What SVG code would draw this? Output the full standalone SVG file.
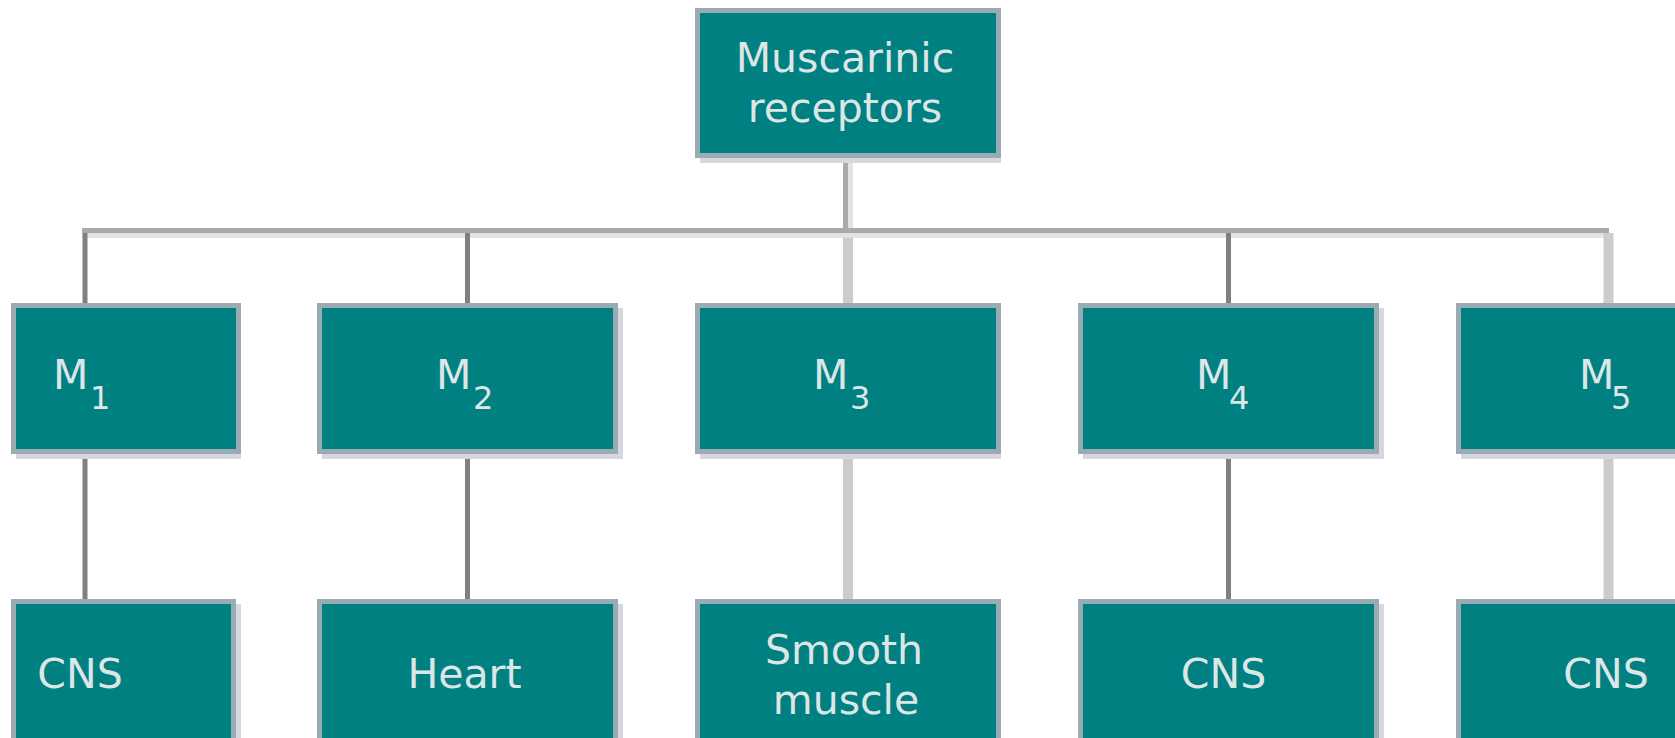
<svg xmlns="http://www.w3.org/2000/svg" width="1675" height="738" viewBox="0 0 1675 738">
<style>
.sh{fill:#d6d7df}
.bx{fill:#008080;stroke:#9aabb3;stroke-width:5}
.t{font-family:"DejaVu Sans","Liberation Sans",sans-serif;font-size:41px;fill:#dce6e6}
.ta{text-anchor:middle}
.sub{font-size:32px}
.dk{stroke:#808080;stroke-width:5;fill:none}
.lt{stroke:#cccccc;stroke-width:10;fill:none}
.hz{stroke:#aaaaaa;stroke-width:5;fill:none}
.hzs{stroke:#e3e3e3;stroke-width:5;fill:none}
</style>
<rect width="1675" height="738" fill="#ffffff"/>
<g id="connectors">
<line class="hzs" x1="82" y1="235.5" x2="1613" y2="235.5"/>
<line class="hzs" x1="850.5" y1="158" x2="850.5" y2="233"/>
<line class="hz" x1="845.5" y1="158" x2="845.5" y2="233"/>
<polyline class="hz" points="82,230.5 1609,230.5"/>
<line class="dk" x1="85" y1="233" x2="85" y2="303"/>
<line class="dk" x1="85" y1="454" x2="85" y2="599"/>
<line class="dk" x1="467.5" y1="233" x2="467.5" y2="303"/>
<line class="dk" x1="467.5" y1="454" x2="467.5" y2="599"/>
<line class="lt" x1="848" y1="238" x2="848" y2="303"/>
<line class="lt" x1="848" y1="454" x2="848" y2="599"/>
<line class="dk" x1="1228.5" y1="233" x2="1228.5" y2="303"/>
<line class="dk" x1="1228.5" y1="454" x2="1228.5" y2="599"/>
<line class="lt" x1="1608.5" y1="233" x2="1608.5" y2="303"/>
<line class="lt" x1="1608.5" y1="454" x2="1608.5" y2="599"/>
</g>
<g id="muscarinic">
<rect class="sh" x="700" y="13" width="301" height="150"/>
<rect class="bx" x="697.5" y="10.5" width="301" height="145"/>
<text class="t ta" x="845" y="72">Muscarinic</text>
<text class="t ta" x="845" y="122">receptors</text>
</g>
<g id="m1">
<rect class="sh" x="16" y="308" width="225" height="151"/>
<rect class="bx" x="13.5" y="305.5" width="225" height="146"/>
<text class="t" x="53" y="389">M<tspan class="sub" x="90" y="409">1</tspan></text>
</g>
<g id="m2">
<rect class="sh" x="322" y="308" width="301" height="151"/>
<rect class="bx" x="319.5" y="305.5" width="296" height="146"/>
<text class="t" x="436" y="389">M<tspan class="sub" x="473" y="409">2</tspan></text>
</g>
<g id="m3">
<rect class="sh" x="700" y="308" width="301" height="151"/>
<rect class="bx" x="697.5" y="305.5" width="301" height="146"/>
<text class="t" x="813" y="389">M<tspan class="sub" x="850" y="409">3</tspan></text>
</g>
<g id="m4">
<rect class="sh" x="1083" y="308" width="301" height="151"/>
<rect class="bx" x="1080.5" y="305.5" width="296" height="146"/>
<text class="t" x="1196" y="389">M<tspan class="sub" x="1229" y="409">4</tspan></text>
</g>
<g id="m5">
<rect class="sh" x="1461" y="308" width="300" height="151"/>
<rect class="bx" x="1458.5" y="305.5" width="300" height="146"/>
<text class="t" x="1579" y="389">M<tspan class="sub" x="1611" y="409">5</tspan></text>
</g>
<g id="cns1">
<rect class="sh" x="16" y="604" width="225" height="200"/>
<rect class="bx" x="13.5" y="601.5" width="220" height="200"/>
<text class="t ta" x="80" y="688">CNS</text>
</g>
<g id="heart">
<rect class="sh" x="322" y="604" width="301" height="200"/>
<rect class="bx" x="319.5" y="601.5" width="296" height="200"/>
<text class="t ta" x="464.5" y="688">Heart</text>
</g>
<g id="smooth">
<rect class="sh" x="700" y="604" width="301" height="200"/>
<rect class="bx" x="697.5" y="601.5" width="301" height="200"/>
<text class="t ta" x="844" y="664">Smooth</text>
<text class="t ta" x="846" y="714">muscle</text>
</g>
<g id="cns4">
<rect class="sh" x="1083" y="604" width="301" height="200"/>
<rect class="bx" x="1080.5" y="601.5" width="296" height="200"/>
<text class="t ta" x="1223.5" y="688">CNS</text>
</g>
<g id="cns5">
<rect class="sh" x="1461" y="604" width="300" height="200"/>
<rect class="bx" x="1458.5" y="601.5" width="300" height="200"/>
<text class="t ta" x="1606" y="688">CNS</text>
</g>
</svg>
